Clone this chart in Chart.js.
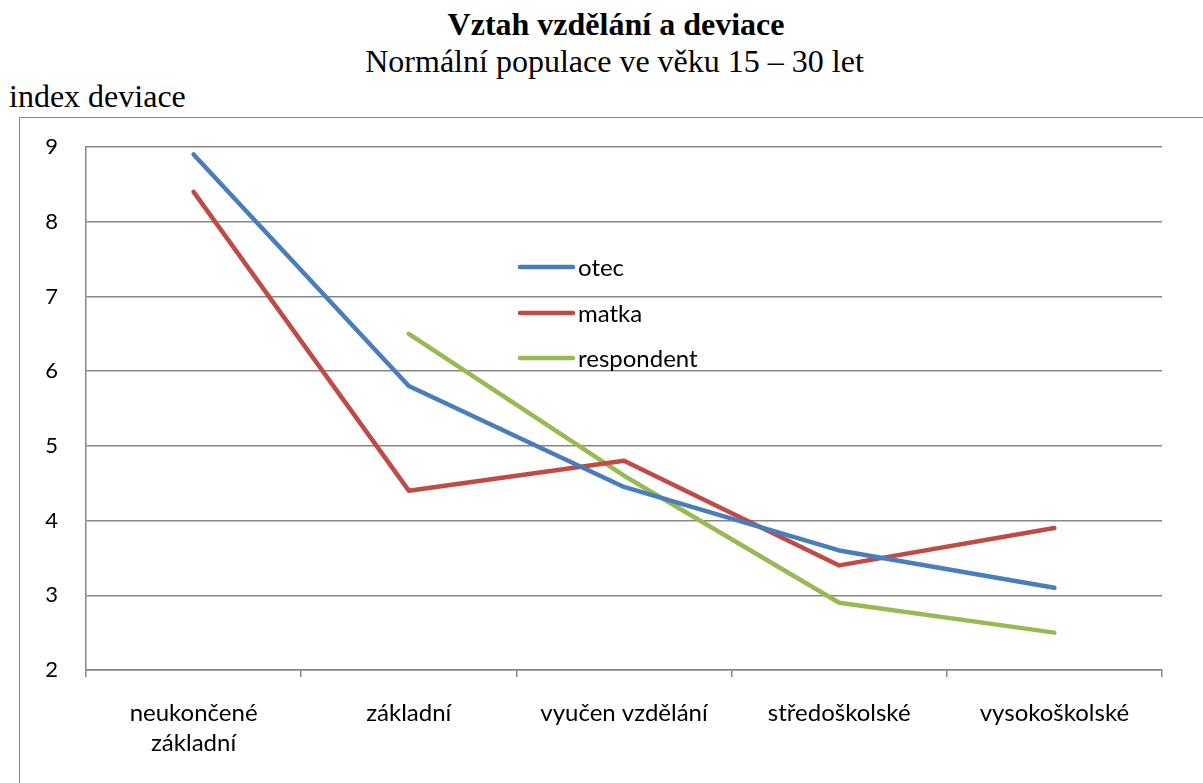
<!DOCTYPE html>
<html>
<head>
<meta charset="utf-8">
<script src="https://cdn.jsdelivr.net/npm/chart.js@4.4.1/dist/chart.umd.min.js"></script>
<style>
  html, body { margin: 0; padding: 0; background: #fff; overflow: hidden; }
  #wrap { position: relative; width: 1203px; height: 783px; overflow: hidden; }
  #frame { position: absolute; left: 19px; top: 117px; width: 1300px; height: 800px;
           border: 1.5px solid #868686; box-sizing: border-box; }
  .t { position: absolute; font-family: "Liberation Serif", serif; font-size: 32px; line-height: 1; color: #000; white-space: nowrap; }
  #title { left: 0; width: 1232px; top: 8px; text-align: center; font-weight: bold; }
  #subtitle { left: 0; width: 1229px; top: 45px; text-align: center; }
  #ytitle { left: 9px; top: 80px; }
  canvas { position: absolute; left: 0; top: 0; }
</style>
</head>
<body>
<div id="wrap">
  <div id="frame"></div>
  <div id="title" class="t">Vztah vzdělání a deviace</div>
  <div id="subtitle" class="t">Normální populace ve věku 15 – 30 let</div>
  <div id="ytitle" class="t">index deviace</div>
  <canvas id="c" width="1203" height="783"></canvas>
</div>
<script>
const categories = [['neukončené', 'základní'], 'základní', 'vyučen vzdělání', 'středoškolské', 'vysokoškolské'];
const otec = [8.9, 5.8, 4.45, 3.6, 3.1];
const matka = [8.4, 4.4, 4.8, 3.4, 3.9];
const respondent = [null, 6.5, 4.6, 2.9, 2.5];
const seriesNames = ['otec', 'matka', 'respondent'];
const seriesColors = ['#4A7EBB', '#BE4B48', '#98B954'];
const yTicks = [2, 3, 4, 5, 6, 7, 8, 9];

const fam = 'Lato, "Open Sans", sans-serif';
const labelFont = { family: fam, size: 24 };
const yFont = { family: fam, size: 22 };

const legendPlugin = {
  id: 'innerLegend',
  afterDatasetsDraw(chart) {
    const ctx = chart.ctx;
    const x0 = 520, x1 = 573, tx = 578;
    const ys = [267, 313, 358];
    ctx.save();
    chart.data.datasets.forEach((ds, i) => {
      ctx.strokeStyle = ds.borderColor;
      ctx.lineWidth = 4.5;
      ctx.lineCap = 'round';
      ctx.beginPath();
      ctx.moveTo(x0, ys[i]);
      ctx.lineTo(x1, ys[i]);
      ctx.stroke();
      ctx.fillStyle = '#000';
      ctx.font = labelFont.size + 'px ' + labelFont.family;
      ctx.textBaseline = 'middle';
      ctx.textAlign = 'left';
      ctx.fillText(ds.label, tx, ys[i] + 1);
    });
    ctx.restore();
  }
};

const mk = (name, data, color) => ({
  label: name, data: data, borderColor: color, backgroundColor: color,
  borderWidth: 4.5, pointRadius: 0, pointHoverRadius: 0, tension: 0,
  borderCapStyle: 'round', borderJoinStyle: 'round', spanGaps: false, fill: false
});

new Chart(document.getElementById('c'), {
  type: 'line',
  data: {
    labels: categories,
    datasets: [
      mk(seriesNames[0], otec, seriesColors[0]),
      mk(seriesNames[1], matka, seriesColors[1]),
      mk(seriesNames[2], respondent, seriesColors[2])
    ]
  },
  options: {
    responsive: false,
    animation: false,
    events: [],
    layout: { padding: { left: 20, top: 147, right: 41, bottom: 0 } },
    plugins: { legend: { display: false }, title: { display: false }, tooltip: { enabled: false } },
    scales: {
      x: {
        offset: true,
        afterFit: (s) => { s.height = 113; },
        border: { display: true, color: '#868686', width: 1.5 },
        grid: { display: true, drawOnChartArea: false, drawTicks: true, tickLength: 7,
                offset: true, color: '#868686', lineWidth: 1.5 },
        ticks: { color: '#000', font: { ...labelFont, lineHeight: 1.25 }, padding: 21, maxRotation: 0, autoSkip: false }
      },
      y: {
        min: 2, max: 9,
        afterFit: (s) => { s.width = 66; },
        afterBuildTicks: (s) => { s.ticks = yTicks.map(v => ({ value: v })); },
        border: { display: true, color: '#868686', width: 1.5 },
        grid: { color: '#868686', lineWidth: 1.5, drawTicks: false },
        ticks: { color: '#000', font: yFont, padding: 28 }
      }
    }
  },
  plugins: [legendPlugin]
});
</script>
</body>
</html>
